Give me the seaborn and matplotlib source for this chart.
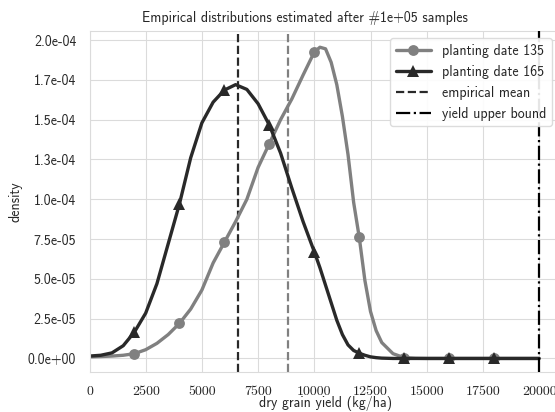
import matplotlib
matplotlib.use("Agg")
import matplotlib.pyplot as plt
import seaborn as sns
import pandas as pd

# Yield grid (kg/ha) on which the densities are tabulated
yield_kg_ha = [0, 500, 1000, 1500, 2000, 2500, 3000, 3500, 4000, 4500,
               5000, 5500, 6000, 6500, 7000, 7500, 8000, 8500, 9000, 9500,
               10000, 10250, 10500, 10750, 11000, 11250, 11500, 11750, 12000,
               12250, 12500, 12750, 13000, 13500, 14000, 14500, 15000, 16000,
               17000, 18000, 19000, 20000]

# Estimated densities (units of 1e-5 per kg/ha)
density_135 = [0.10, 0.12, 0.15, 0.20, 0.30, 0.55, 0.95, 1.50, 2.20, 3.10,
               4.30, 6.00, 7.30, 8.60, 10.0, 12.0, 13.5, 15.0, 16.3, 17.8,
               19.25, 19.55, 19.45, 18.6, 17.2, 15.2, 12.8, 9.8, 7.6,
               4.9, 2.95, 1.75, 1.0, 0.3, 0.05, 0.01, 0.0, 0.0,
               0.0, 0.0, 0.0, 0.0]
density_165 = [0.15, 0.20, 0.35, 0.80, 1.66, 2.85, 4.70, 7.20, 9.70, 12.6,
               14.8, 16.1, 16.86, 17.2, 16.9, 16.0, 14.66, 12.9, 10.7, 8.6,
               6.7, 5.7, 4.6, 3.5, 2.4, 1.5, 0.85, 0.5, 0.33,
               0.2, 0.1, 0.05, 0.02, 0.0, 0.0, 0.0, 0.0, 0.0,
               0.0, 0.0, 0.0, 0.0]
density_scale = 1e-5

series_labels = ["planting date 135", "planting date 165"]
empirical_means = [8845, 6620]
yield_upper_bound = 20000
marker_yields = [2000, 4000, 6000, 8000, 10000, 12000, 14000, 16000, 18000]

x_ticks = [0, 2500, 5000, 7500, 10000, 12500, 15000, 17500, 20000]
y_ticks = [0.0, 2.5e-5, 5.0e-5, 7.5e-5, 1.0e-4, 1.25e-4, 1.5e-4, 1.75e-4, 2.0e-4]
y_tick_labels = ["0.0e+00", "2.5e-05", "5.0e-05", "7.5e-05", "1.0e-04",
                 "1.3e-04", "1.5e-04", "1.7e-04", "2.0e-04"]

sns.set_style("whitegrid", {"grid.color": "0.86", "axes.edgecolor": "0.86"})
plt.rcParams["font.family"] = ["cmss10", "DejaVu Sans"]
plt.rcParams["axes.unicode_minus"] = False
plt.rcParams["mathtext.fontset"] = "cm"

df = pd.DataFrame({
    "yield": yield_kg_ha,
    "d135": [v * density_scale for v in density_135],
    "d165": [v * density_scale for v in density_165],
})
mark_idx = [i for i, v in enumerate(yield_kg_ha) if v in marker_yields]

fig = plt.figure(figsize=(5.55, 4.12), dpi=100)
ax = fig.add_axes([89.5 / 555, 1 - 372.3 / 412, (561.6 - 89.5) / 555, (372.3 - 31) / 412])

gray = "0.5"
dark = "0.16"

# mean lines sit underneath the density curves
ax.axvline(empirical_means[0], color=gray, ls="--", lw=1.6, zorder=1.5)
ax.axvline(empirical_means[1], color=dark, ls="--", lw=1.6, zorder=1.5,
           label="empirical mean")

sns.lineplot(data=df, x="yield", y="d135", ax=ax, color=gray, lw=2.4,
             marker="o", markersize=7.8, markeredgewidth=0, markevery=mark_idx,
             label=series_labels[0], zorder=2)
sns.lineplot(data=df, x="yield", y="d165", ax=ax, color=dark, lw=2.4,
             marker="^", markersize=8, markeredgewidth=0, markevery=mark_idx,
             label=series_labels[1], zorder=2.2)
ax.axvline(yield_upper_bound, color="black", ls="-.", lw=1.6, zorder=3,
           label="yield upper bound")

ax.set_xlim(0, 21000)
ax.set_ylim(-8.7e-6, 2.057e-4)
ax.set_xticks(x_ticks)
ax.set_xticklabels([str(t) for t in x_ticks], fontfamily="cmr10")
ax.set_yticks(y_ticks)
ax.set_yticklabels(y_tick_labels)
ax.tick_params(axis="both", labelsize=10, colors="0.15", pad=6)
ax.set_xlabel("dry grain yield (kg/ha)", fontsize=10, color="0.15", labelpad=-1)
ax.set_ylabel("density", fontsize=10, color="0.15")

# title centred on the figure width rather than the axes
fig.text(305 / 555, 1 - 18 / 412,
         "Empirical distributions estimated after #1e+05 samples",
         ha="center", va="center", fontsize=10, color="0.15")

handles, labels = ax.get_legend_handles_labels()
order = [labels.index(l) for l in series_labels + ["empirical mean", "yield upper bound"]]
ax.legend([handles[i] for i in order], [labels[i] for i in order],
          loc="upper right", bbox_to_anchor=(551.7 / 555, 1 - 38.3 / 412),
          bbox_transform=fig.transFigure, borderaxespad=0, fontsize=10,
          handlelength=2.5, frameon=True, framealpha=0.9, edgecolor="0.85",
          fancybox=True)

fig.savefig("out.png", dpi=100)
